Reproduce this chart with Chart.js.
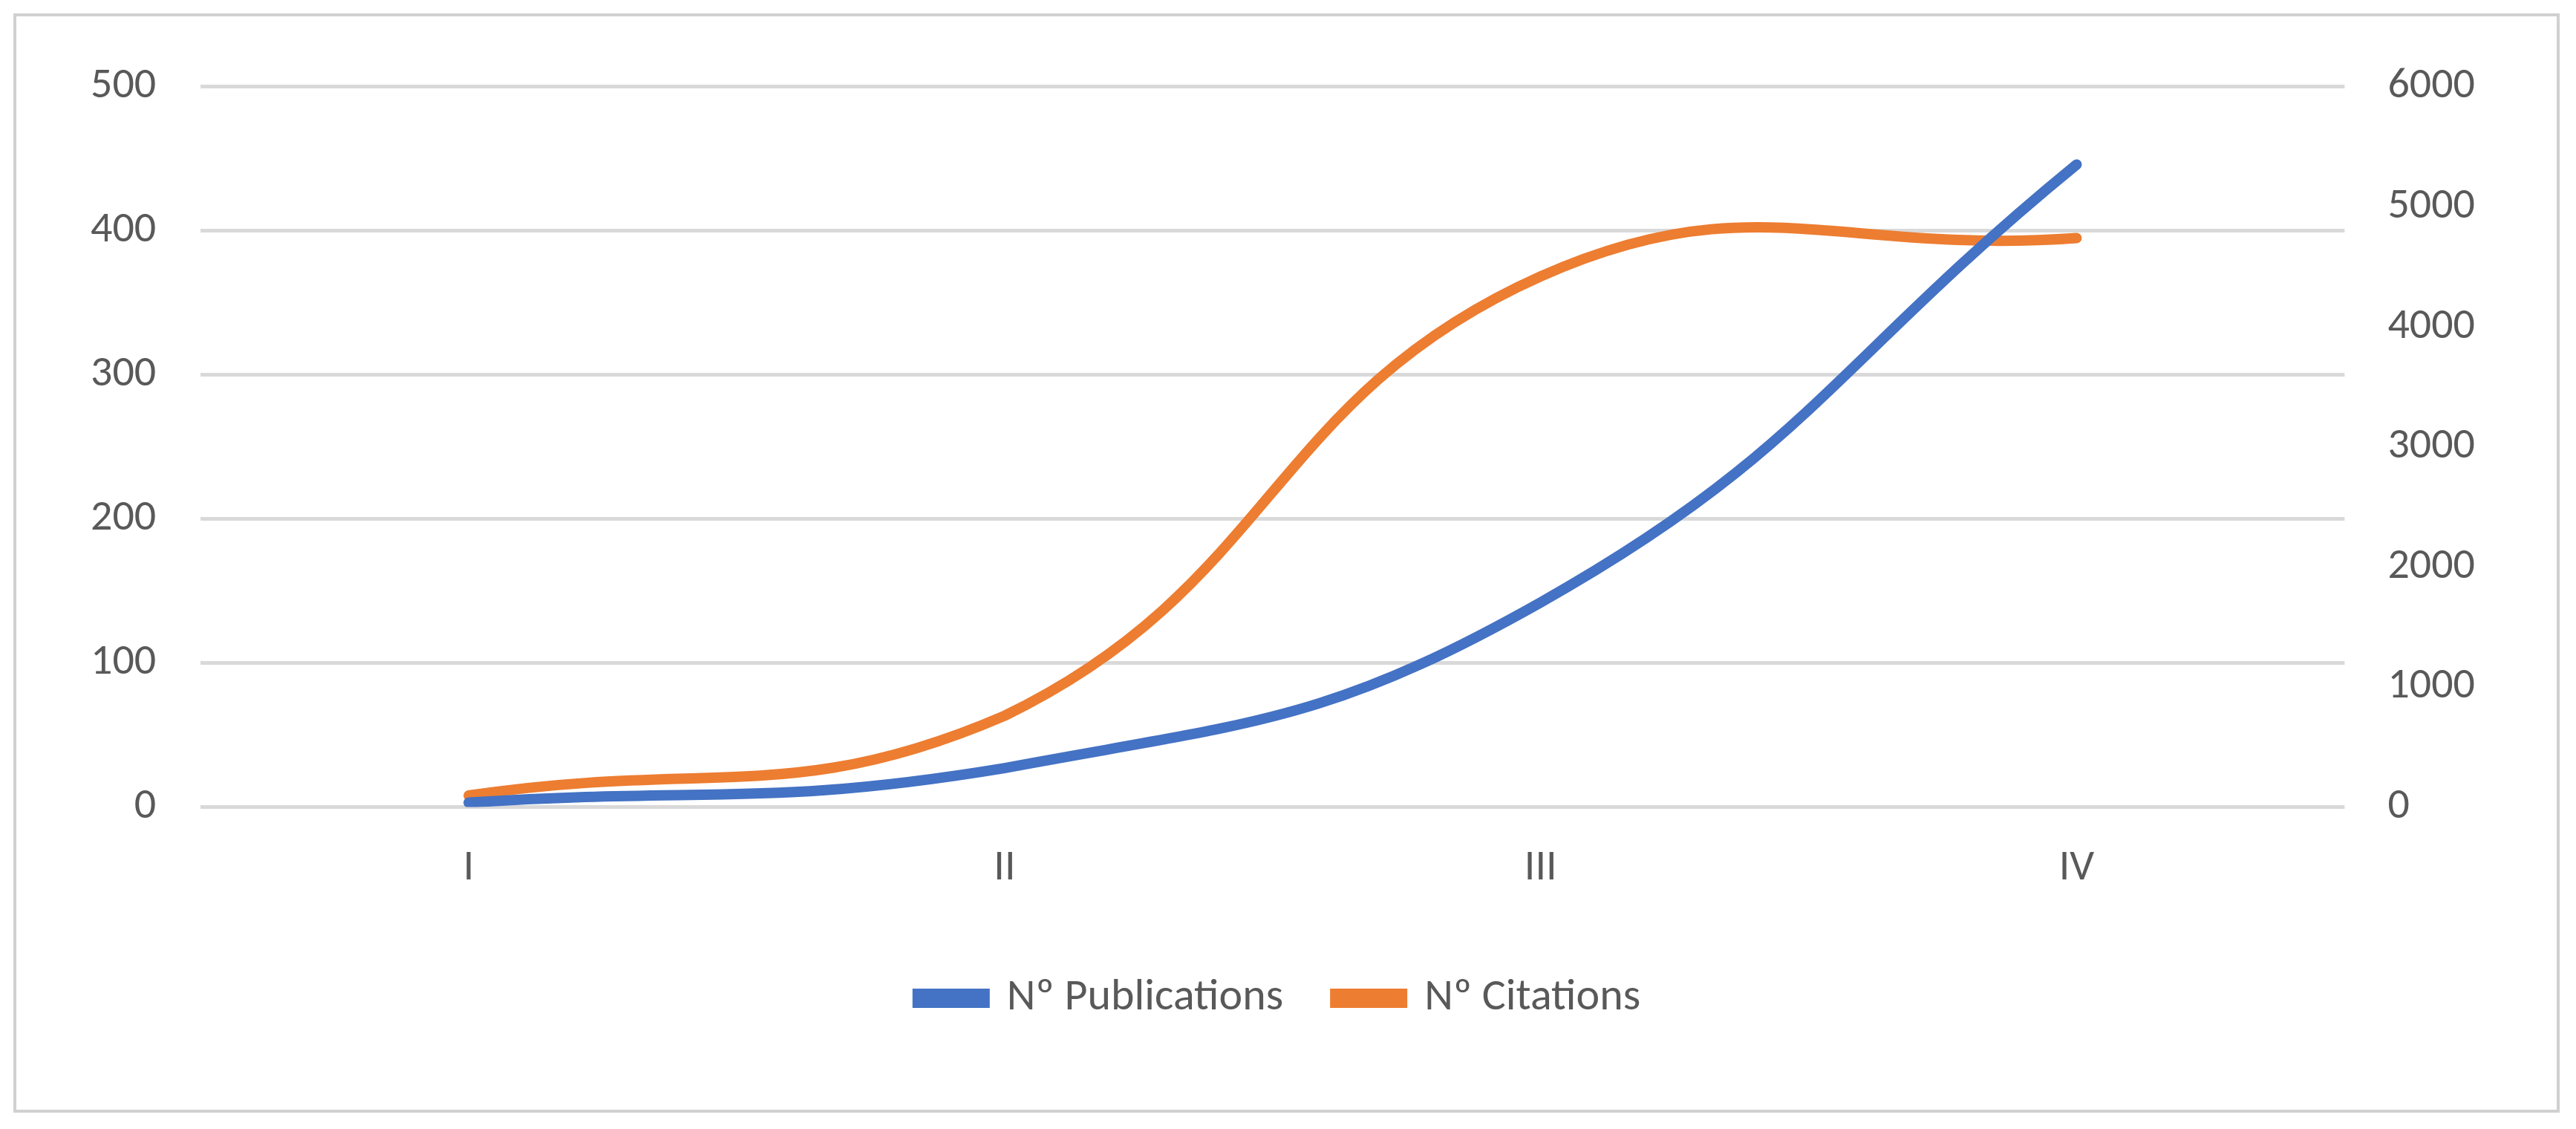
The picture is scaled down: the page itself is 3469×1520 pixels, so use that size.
<!DOCTYPE html>
<html><head><meta charset="utf-8">
<script src="https://cdn.jsdelivr.net/npm/chart.js@4"></script>
<style>
html,body{margin:0;padding:0;background:#fff;}
#wrap{position:absolute;left:18px;top:18px;width:3429px;height:1480px;border:4px solid #d0d0d0;box-sizing:border-box;}
canvas{display:block;}
</style></head><body>
<div id="wrap"><canvas id="c"></canvas></div>
<script>
const categories = ["I","II","III","IV"];
const publications = [3, 27, 142, 446];
const citations = [95, 760, 4420, 4740];
const leftTicks = [0,100,200,300,400,500];
const rightTicks = [0,1000,2000,3000,4000,5000,6000];

const tickFont = {family:"Calibri, Carlito, 'Open Sans', sans-serif", size:58};
new Chart(document.getElementById('c'), {
  type:'line',
  data:{labels:categories, datasets:[
    {label:'Nº Publications', data:publications, borderColor:'#4472c4', backgroundColor:'#4472c4', borderWidth:14, pointRadius:0, tension:0.45, yAxisID:'y', borderCapStyle:'round'},
    {label:'Nº Citations', data:citations, borderColor:'#ed7d31', backgroundColor:'#ed7d31', borderWidth:14, pointRadius:0, tension:0.45, yAxisID:'y1', borderCapStyle:'round'}
  ]},
  options:{
    responsive:true, maintainAspectRatio:false, animation:false,
    layout:{padding:{left:40,right:60,top:70,bottom:110}},
    plugins:{legend:{position:'bottom', labels:{font:{family:tickFont.family,size:60}, color:'#595959', boxWidth:90, boxHeight:12, padding:70}}, tooltip:{enabled:false}},
    scales:{
      x:{offset:true, grid:{display:false}, border:{display:false}, ticks:{font:tickFont, color:'#595959', padding:40}},
      y:{position:'left', min:0, max:500, afterBuildTicks:a=>{a.ticks=leftTicks.map(v=>({value:v}));}, grid:{color:'#d9d9d9', lineWidth:5, drawTicks:false}, border:{display:false}, ticks:{font:tickFont, color:'#595959', padding:60, callback:v=>String(v)}},
      y1:{position:'right', min:0, max:6000, afterBuildTicks:a=>{a.ticks=rightTicks.map(v=>({value:v}));}, grid:{display:false}, border:{display:false}, ticks:{font:tickFont, color:'#595959', padding:50, callback:v=>String(v)}}
    }
  }
});
</script></body></html>
